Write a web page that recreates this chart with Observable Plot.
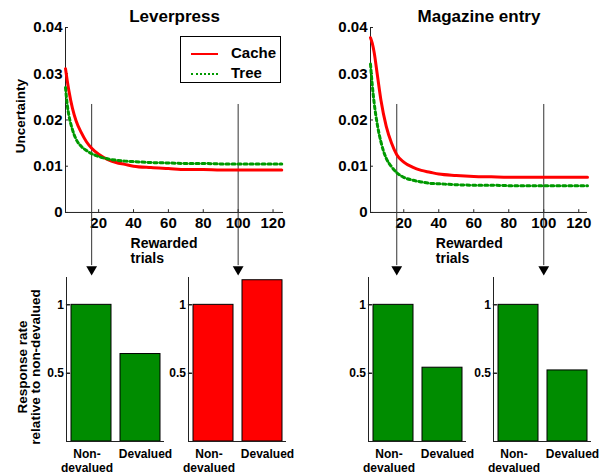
<!DOCTYPE html>
<html><head><meta charset="utf-8">
<script src="https://cdn.jsdelivr.net/npm/d3@7"></script>
<script src="https://cdn.jsdelivr.net/npm/@observablehq/plot@0.6"></script>
<style>
body{margin:0;background:#fff;}
#wrap{position:relative;width:605px;height:475px;overflow:hidden;font-family:"Liberation Sans",Arial,Helvetica,sans-serif;}
#wrap svg{position:absolute;overflow:visible;background:transparent;}
.legend{position:absolute;left:180px;top:36px;width:101px;height:47px;box-sizing:border-box;border:1px solid #000;background:#fff;font-weight:bold;font-size:15px;}
.legend .ln{position:absolute;left:10px;width:27px;height:0;}
.legend .lab{position:absolute;left:50px;line-height:15px;}
</style></head><body><div id="wrap"></div>
<script>
// ---- data ----
const trials = [1, 2, 3, 5, 7, 10, 13, 16, 20, 25, 30, 35, 40, 50, 60, 70, 80, 90, 100, 110, 125];
const leverCache = [0.0311, 0.0285, 0.0262, 0.0225, 0.0199, 0.0173, 0.0153, 0.0139, 0.0126, 0.0115, 0.0108, 0.0104, 0.0100, 0.0097, 0.0095, 0.0093, 0.0093, 0.0092, 0.0092, 0.0092, 0.0092];
const leverTree  = [0.0270, 0.0233, 0.0209, 0.0179, 0.0159, 0.0143, 0.0134, 0.0127, 0.0121, 0.0116, 0.0113, 0.0111, 0.0110, 0.0108, 0.0107, 0.0106, 0.0106, 0.0105, 0.0105, 0.0105, 0.0105];
const magCache   = [0.0378, 0.0366, 0.0348, 0.0295, 0.0242, 0.0186, 0.0150, 0.0125, 0.0109, 0.0098, 0.0091, 0.0087, 0.0083, 0.0080, 0.0078, 0.0077, 0.0076, 0.0076, 0.0076, 0.0076, 0.0076];
const magTree    = [0.0321, 0.0276, 0.0240, 0.0188, 0.0152, 0.0117, 0.0099, 0.0086, 0.0076, 0.0070, 0.0066, 0.0063, 0.0062, 0.0060, 0.0059, 0.0059, 0.0058, 0.0058, 0.0058, 0.0058, 0.0058];
const xTickValues = [20, 40, 60, 80, 100, 120];
const yTickValues = [0, 0.01, 0.02, 0.03, 0.04];
const probeTrials = [16, 100];
const barCategories = ["Non-devalued", "Devalued"];
const barLabels = ["Non-\ndevalued", "Devalued"];
const barTickValues = [0.5, 1];
const leverEarlyBars = [1, 0.64];
const leverLateBars  = [1, 1.18];
const magEarlyBars   = [1, 0.54];
const magLateBars    = [1, 0.52];
const seriesNames = ["Cache", "Tree"];

// ---- style ----
const FONT = '"Liberation Sans", Arial, Helvetica, sans-serif';
const RED = "#ff0000", GREEN_LINE = "#009900", GREEN_BAR = "#008c00", AXIS = "#222";
const wrap = document.getElementById("wrap");

function place(svg, left, top) {
  svg.style.position = "absolute";
  svg.style.left = left + "px";
  svg.style.top = top + "px";
  svg.style.maxWidth = "none";
  wrap.appendChild(svg);
}

const tickShape = {draw(context, l) { context.moveTo(0, 0); context.lineTo(0, -l); }};

function barPanel(values, fill, axisX, showYLabel) {
  const data = barCategories.map((c, i) => ({c, v: values[i], label: barLabels[i]}));
  const mL = showYLabel ? 66 : 30;
  const svg = Plot.plot({
    width: mL + 98 + 14, height: 210,
    marginLeft: mL, marginRight: 14, marginTop: 12, marginBottom: 34,
    x: {domain: barCategories, paddingInner: 9 / 49, paddingOuter: 4.5 / 49, axis: null},
    y: {domain: [0, 1.2], axis: null},
    style: {fontFamily: FONT, overflow: "visible", background: "transparent"},
    marks: [
      Plot.barY(data, {x: "c", y: "v", fill, stroke: "#000", strokeWidth: 1}),
      Plot.ruleY([0], {stroke: AXIS}),
      Plot.frame({anchor: "left", stroke: AXIS}),
      Plot.vector(barTickValues, {y: d => d, frameAnchor: "left", length: 3, rotate: 90, anchor: "start", shape: tickShape, stroke: AXIS}),
      Plot.text(barTickValues, {y: d => d, frameAnchor: "left", dx: -2.5, textAnchor: "end", lineAnchor: "middle", text: d => d === 1 ? "1" : "0.5", fontSize: 12, fontWeight: "bold"}),
      Plot.text([data[0]], {x: "c", y: 0, text: "label", lineAnchor: "top", dy: 7, dx: -4.5, fontSize: 12, fontWeight: "bold", lineHeight: 14 / 12}),
      Plot.text([data[1]], {x: "c", y: 0, text: "label", lineAnchor: "top", dy: 7, dx: 5, fontSize: 12, fontWeight: "bold", lineHeight: 14 / 12}),
      showYLabel ? Plot.text(["Response rate\nrelative to non-devalued"], {text: d => d, frameAnchor: "left", textAnchor: "middle", lineAnchor: "middle", dx: -37.4, dy: 7.5, rotate: -90, fontSize: 13.5, lineHeight: 1, fontWeight: "bold"}) : null
    ]
  });
  place(svg, axisX - mL, 265);
}

function topPanel(title, cache, tree, left, xMax, mR, showYLabel) {
  const cacheData = trials.map((t, i) => ({t, v: cache[i]}));
  const treeData = trials.map((t, i) => ({t, v: tree[i]}));
  const svg = Plot.plot({
    width: 300, height: 280,
    marginLeft: 65, marginRight: mR, marginTop: 27, marginBottom: 1,
    x: {domain: [1, xMax], axis: null},
    y: {domain: [-0.0145, 0.04], axis: null},
    style: {fontFamily: FONT, overflow: "visible", background: "transparent"},
    marks: [
      Plot.ruleY([0], {stroke: AXIS}),
      Plot.ruleX([1], {y1: 0, y2: 0.04, stroke: AXIS}),
      Plot.ruleX(xTickValues, {y1: 0, y2: 0.0006, stroke: AXIS}),
      Plot.ruleY(yTickValues, {x1: 1, x2: 2.7, stroke: AXIS}),
      Plot.text(yTickValues, {x: 1, y: d => d, text: d => d === 0 ? "0" : d.toFixed(2), textAnchor: "end", dx: -3, fontSize: 15, fontWeight: "bold"}),
      Plot.text(xTickValues, {x: d => d, y: 0, text: d => String(d), dy: 16, lineAnchor: "bottom", fontSize: 15, fontWeight: "bold"}),
      Plot.ruleX(probeTrials, {y1: 0.02335, y2: -0.0115, stroke: "#333"}),
      Plot.dot(probeTrials, {x: d => d, y: -0.0123, symbol: "triangle", rotate: 180, r: 4, fill: "#000", stroke: null}),
      Plot.line(cacheData, {x: "t", y: "v", stroke: RED, strokeWidth: 3, curve: "monotone-x"}),
      Plot.line(treeData, {x: "t", y: "v", stroke: GREEN_LINE, strokeWidth: 3, strokeDasharray: "3,3", curve: "monotone-x"}),
      Plot.text([title], {text: d => d, frameAnchor: "top", textAnchor: "middle", dy: -6, lineAnchor: "bottom", fontSize: 17, fontWeight: "bold"}),
      Plot.text(["Rewarded\ntrials"], {text: d => d, x: 38.3, y: -0.01103, textAnchor: "start", lineAnchor: "bottom", fontSize: 14, lineHeight: 15 / 14, fontWeight: "bold"}),
      showYLabel ? Plot.text(["Uncertainty"], {text: d => d, frameAnchor: "left", textAnchor: "middle", lineAnchor: "middle", dx: -44.6, dy: -37.3, rotate: -90, fontSize: 13.5, fontWeight: "bold"}) : null
    ]
  });
  place(svg, left, 0);
}

barPanel(leverEarlyBars, GREEN_BAR, 66, true);
barPanel(leverLateBars, RED, 188, false);
barPanel(magEarlyBars, GREEN_BAR, 368, false);
barPanel(magLateBars, GREEN_BAR, 493, false);

topPanel("Leverpress", leverCache, leverTree, 0, 126, 17, true);
topPanel("Magazine entry", magCache, magTree, 305, 125, 18, false);

// legend
const legend = document.createElement("div");
legend.className = "legend";
const styles = [
  {top: 15.5, css: `border-top:2px solid ${RED}`},
  {top: 35.5, css: `border-top:2px dotted ${GREEN_LINE}`}
];
seriesNames.forEach((name, i) => {
  const ln = document.createElement("div");
  ln.className = "ln";
  ln.style.cssText = `top:${styles[i].top}px;${styles[i].css}`;
  legend.appendChild(ln);
  const lab = document.createElement("div");
  lab.className = "lab";
  lab.style.top = (styles[i].top - 7.5) + "px";
  lab.textContent = name;
  legend.appendChild(lab);
});
wrap.appendChild(legend);
</script>
</body></html>
